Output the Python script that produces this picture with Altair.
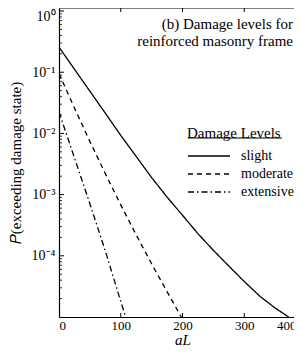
import altair as alt
import pandas as pd

# ---- data ----
levels = ["slight", "moderate", "extensive"]

slight_aL = [0, 25, 50, 75, 100, 125, 150, 175, 200, 225, 250, 275, 300, 325, 350, 372]
slight_P = [0.257, 0.112, 0.049, 0.0214, 0.0093, 0.0042, 0.0019, 9.1e-4, 4.6e-4,
            2.3e-4, 1.23e-4, 6.8e-5, 3.8e-5, 2.2e-5, 1.4e-5, 1.0e-5]

moderate_aL = [0, 25, 50, 75, 100, 125, 150, 175, 198]
moderate_P = [0.095, 0.026, 0.0074, 0.0022, 6.8e-4, 2.2e-4, 7.4e-5, 2.6e-5, 1.0e-5]

extensive_aL = [0, 25, 50, 75, 100, 108]
extensive_P = [0.0224, 0.0040, 7.1e-4, 1.2e-4, 1.8e-5, 1.0e-5]

x_label_values = [0, 100, 200, 300, 400]
x_tick_values = [100, 200, 300]
y_major = [1, 1e-1, 1e-2, 1e-3, 1e-4]
y_major_exp = [0, -1, -2, -3, -4]
y_labels = ["10\u2070", "10\u207b\u00b9", "10\u207b\u00b2", "10\u207b\u00b3", "10\u207b\u2074"]
y_minor_mantissa = [2, 3, 4, 5, 6, 7, 8, 9]
y_minor_exp = [-5, -4, -3, -2, -1]

title_lines = ["(b) Damage levels for", "reinforced masonry frame"]
legend_title = "Damage Levels"
y_title = "\U0001D443(exceeding damage state)"

# ---- tables ----
rows = []
for lvl, xs, ps in [("slight", slight_aL, slight_P),
                    ("moderate", moderate_aL, moderate_P),
                    ("extensive", extensive_aL, extensive_P)]:
    for a, p in zip(xs, ps):
        rows.append({"aL": a, "P": p, "level": lvl})
df = pd.DataFrame(rows)

minor_vals = [m * 10.0 ** e for e in y_minor_exp for m in y_minor_mantissa]
minor_vals = [v for v in minor_vals if v < 1.1]

FONT = "Liberation Serif"
W, H = 235, 309
xscale = alt.Scale(domain=[0, 400], range=[0, 247], nice=False, zero=False)
yscale = alt.Scale(type="log", domain=[1e-5, 1.12], nice=False)

label_expr = ""
for e, lab in zip(y_major_exp, y_labels):
    label_expr += f"abs(log(datum.value)/LN10 - ({e})) < 0.01 ? '{lab}' : "
label_expr += "''"

x_axis = alt.Axis(values=x_label_values, ticks=False, grid=False, domainColor="black",
                  domainWidth=1.2, labelFontSize=13, labelPadding=2, title="aL",
                  labelOffset={"condition": {"test": "datum.value === 400", "value": -10}, "value": 0},
                  titleFontStyle="italic", titleFontSize=15, titleFontWeight="normal",
                  titleY=27, titleBaseline="alphabetic", labelColor="black", titleColor="black",
                  labelFont=FONT, titleFont=FONT)
y_axis = alt.Axis(values=y_major, labelExpr=label_expr, ticks=False, grid=False,
                  domainColor="black", domainWidth=1.2, labelFontSize=14, labelPadding=4,
                  labelOffset={"condition": {"test": "datum.value === 1", "value": 5}, "value": 0},
                  title=y_title, titleFontSize=15,
                  titleFontWeight="normal", titlePadding=8, labelColor="black",
                  titleColor="black", labelFont=FONT, titleFont=FONT)

lines = alt.Chart(df).mark_line(color="black", strokeWidth=1.3, clip=True).encode(
    x=alt.X("aL:Q", scale=xscale, axis=x_axis),
    y=alt.Y("P:Q", scale=yscale, axis=y_axis),
    strokeDash=alt.StrokeDash("level:N",
                              scale=alt.Scale(domain=levels, range=[[1, 0], [5, 4], [6, 3, 1.5, 3]]),
                              legend=alt.Legend(title=legend_title, orient="none", legendX=128,
                                                legendY=118, symbolType="stroke", symbolSize=1764,
                                                symbolStrokeWidth=1.3, symbolStrokeColor="black",
                                                clipHeight=14, rowPadding=4, labelOffset=10,
                                                padding=0, titlePadding=8, titleFontSize=15,
                                                titleFontWeight="normal", labelFontSize=14,
                                                titleColor="black", labelColor="black",
                                                labelFont=FONT, titleFont=FONT)),
)

xt = pd.DataFrame({"aL": x_tick_values})
bottom_ticks = alt.Chart(xt).mark_rule(color="black", strokeWidth=1).encode(
    x=alt.X("aL:Q", scale=xscale, axis=x_axis), y=alt.value(H), y2=alt.value(H - 4))
top_ticks = alt.Chart(xt).mark_rule(color="black", strokeWidth=1).encode(
    x=alt.X("aL:Q", scale=xscale, axis=x_axis), y=alt.value(0), y2=alt.value(4))

ymaj = pd.DataFrame({"P": y_major})
ymin = pd.DataFrame({"P": minor_vals})
left_major = alt.Chart(ymaj).mark_rule(color="black", strokeWidth=1).encode(
    y=alt.Y("P:Q", scale=yscale, axis=y_axis), x=alt.value(0), x2=alt.value(5))
left_minor = alt.Chart(ymin).mark_rule(color="black", strokeWidth=0.8).encode(
    y=alt.Y("P:Q", scale=yscale, axis=y_axis), x=alt.value(0), x2=alt.value(3))

one = pd.DataFrame({"k": [0]})
top_border = alt.Chart(one).mark_rule(color="black", strokeWidth=1.2).encode(
    x=alt.value(0), x2=alt.value(W + 10), y=alt.value(0))
underline = alt.Chart(one).mark_rule(color="black", strokeWidth=1).encode(
    x=alt.value(129), x2=alt.value(223), y=alt.value(130))

chart = alt.layer(lines, bottom_ticks, top_ticks, left_major, left_minor, top_border, underline).properties(
    width=W, height=H,
    title=alt.TitleParams(text=title_lines, anchor="end", orient="top", offset=-42, frame="group",
                          fontSize=15, fontWeight="normal", font=FONT, color="black", dx=-1,
                          lineHeight=17),
    autosize=alt.AutoSizeParams(type="none"),
    padding={"left": 51, "top": 0, "right": 0, "bottom": 28},
).configure_view(stroke=None)

chart.save("out.html", embed_options={"renderer": "svg", "actions": False})
